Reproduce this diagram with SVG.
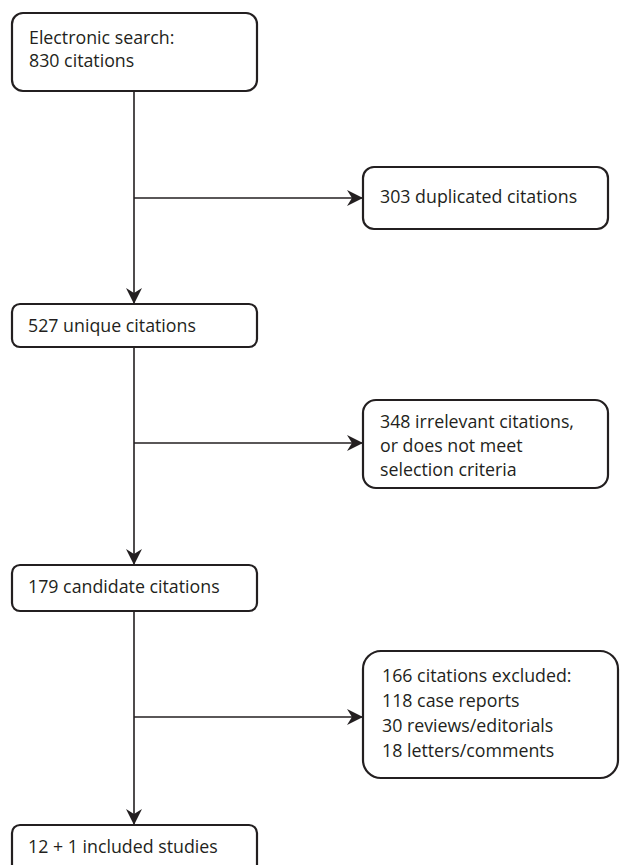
<svg xmlns="http://www.w3.org/2000/svg" width="620" height="865" viewBox="0 0 620 865">
<style>
.box{fill:#fff;stroke:#231f20;stroke-width:2.2}
.t{font-family:"Open Sans","Liberation Sans",sans-serif;font-size:17.8px;fill:#231f20}
.ln{stroke:#231f20;stroke-width:1.6;fill:none}
</style>
<defs>
<marker id="ah" viewBox="0 0 16 16" refX="15" refY="8" markerWidth="16" markerHeight="16" markerUnits="userSpaceOnUse" orient="auto">
<path d="M0,0 L16,8 L0,16 L5,8 Z" fill="#231f20"/>
</marker>
</defs>
<rect width="620" height="865" fill="#fff"/>
<g id="connectors">
<path class="ln" d="M134,91 V303" marker-end="url(#ah)"/>
<path class="ln" d="M134,198 H362" marker-end="url(#ah)"/>
<path class="ln" d="M134,347 V564" marker-end="url(#ah)"/>
<path class="ln" d="M134,443 H362" marker-end="url(#ah)"/>
<path class="ln" d="M134,611 V824" marker-end="url(#ah)"/>
<path class="ln" d="M134,717 H362" marker-end="url(#ah)"/>
</g>
<g id="n1">
<rect class="box" x="12" y="13" width="245" height="78" rx="11"/>
<text class="t" x="29" y="44">Electronic search:</text>
<text class="t" x="29" y="67">830 citations</text>
</g>
<g id="n2">
<rect class="box" x="363" y="167" width="245" height="62" rx="11"/>
<text class="t" x="380" y="203">303 duplicated citations</text>
</g>
<g id="n3">
<rect class="box" x="12" y="304" width="245" height="43" rx="8"/>
<text class="t" x="28" y="332">527 unique citations</text>
</g>
<g id="n4">
<rect class="box" x="363" y="400" width="245" height="88" rx="13"/>
<text class="t" x="380" y="428">348 irrelevant citations,</text>
<text class="t" x="380" y="452">or does not meet</text>
<text class="t" x="380" y="476">selection criteria</text>
</g>
<g id="n5">
<rect class="box" x="12" y="565" width="245" height="46" rx="8"/>
<text class="t" x="28" y="593">179 candidate citations</text>
</g>
<g id="n6">
<rect class="box" x="363" y="651" width="255" height="127" rx="18"/>
<text class="t" x="382" y="682">166 citations excluded:</text>
<text class="t" x="382" y="707">118 case reports</text>
<text class="t" x="382" y="732">30 reviews/editorials</text>
<text class="t" x="382" y="757">18 letters/comments</text>
</g>
<g id="n7">
<rect class="box" x="12" y="825" width="245" height="60" rx="8"/>
<text class="t" x="28" y="853">12 + 1 included studies</text>
</g>
</svg>
